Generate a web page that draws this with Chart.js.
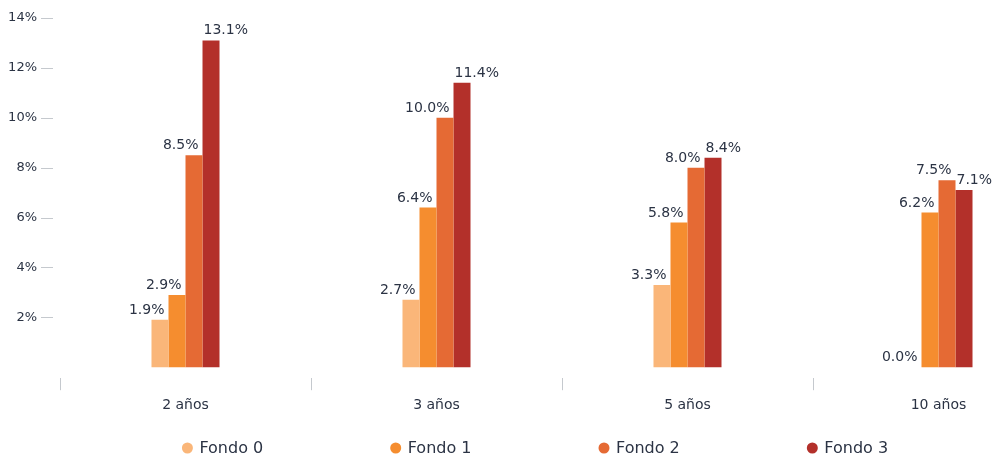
<!DOCTYPE html>
<html>
<head>
<meta charset="utf-8">
<script src="https://cdn.jsdelivr.net/npm/chart.js@4/dist/chart.umd.min.js"></script>
<style>
  html, body { margin: 0; padding: 0; background: #ffffff; overflow: hidden; }
  #wrap { width: 1070px; height: 456px; }
</style>
</head>
<body>
<div id="wrap"><canvas id="c" width="1070" height="456"></canvas></div>
<script>
const categories = ['2 años', '3 años', '5 años', '10 años'];
const seriesNames = ['Fondo 0', 'Fondo 1', 'Fondo 2', 'Fondo 3'];
const fondo0 = [1.9, 2.7, 3.3, 0.0];
const fondo1 = [2.9, 6.4, 5.8, 6.2];
const fondo2 = [8.5, 10.0, 8.0, 7.5];
const fondo3 = [13.1, 11.4, 8.4, 7.1];
const yTickValues = [2, 4, 6, 8, 10, 12, 14];

const colors = ['#FAB679', '#F58D2F', '#E56A34', '#B3302A'];
const textColor = '#2b3344';
const tickMarkColor = '#c5c9ce';
const FONT = '"DejaVu Sans", Verdana, sans-serif';

const seriesValues = [fondo0, fondo1, fondo2, fondo3];

const helperPlugin = {
  id: 'helper',
  afterDatasetsDraw(chart) {
    const ctx = chart.ctx;
    ctx.save();
    ctx.font = '14px ' + FONT;
    ctx.fillStyle = textColor;
    ctx.textBaseline = 'alphabetic';
    chart.data.datasets.forEach((ds, di) => {
      const meta = chart.getDatasetMeta(di);
      meta.data.forEach((bar, i) => {
        const v = ds.data[i];
        const txt = v.toFixed(1) + '%';
        const half = bar.width / 2;
        let x;
        if (di === seriesValues.length - 1) {
          ctx.textAlign = 'left';
          x = bar.x - half + 1;
        } else {
          ctx.textAlign = 'right';
          x = bar.x + half - 4;
        }
        ctx.fillText(txt, x, bar.y - 6);
      });
    });
    ctx.restore();
  },
  afterDraw(chart) {
    const ctx = chart.ctx;
    const area = chart.chartArea;
    const y = chart.scales.y;
    ctx.save();
    ctx.strokeStyle = tickMarkColor;
    ctx.lineWidth = 1;
    yTickValues.forEach(v => {
      const py = Math.round(y.getPixelForValue(v)) + 0.5;
      ctx.beginPath();
      ctx.moveTo(area.left - 19, py);
      ctx.lineTo(area.left - 7, py);
      ctx.stroke();
    });
    // legend
    ctx.font = '16px ' + FONT;
    ctx.textBaseline = 'middle';
    ctx.textAlign = 'left';
    const r = 5.5, gapText = 6.5, pitch = 208.3;
    const n = seriesNames.length;
    const lastW = 2 * r + gapText + ctx.measureText(seriesNames[n - 1]).width;
    const total = pitch * (n - 1) + lastW;
    let x0 = chart.width / 2 - total / 2;
    const ly = 448;
    seriesNames.forEach((name, i) => {
      const x = x0 + i * pitch;
      ctx.fillStyle = colors[i];
      ctx.beginPath();
      ctx.arc(x + r, ly, r, 0, Math.PI * 2);
      ctx.fill();
      ctx.fillStyle = textColor;
      ctx.fillText(name, x + 2 * r + gapText, ly + 1);
    });
    ctx.restore();
  }
};

new Chart(document.getElementById('c'), {
  type: 'bar',
  data: {
    labels: categories,
    datasets: seriesValues.map((vals, i) => ({
      label: seriesNames[i],
      data: vals,
      backgroundColor: colors[i],
      borderWidth: 0,
      barPercentage: 1,
      categoryPercentage: 0.271
    }))
  },
  options: {
    responsive: false,
    animation: false,
    layout: { padding: { top: 18, bottom: 35, left: 0, right: 6 } },
    plugins: {
      legend: { display: false },
      tooltip: { enabled: false }
    },
    scales: {
      x: {
        offset: true,
        border: { display: false },
        grid: {
          offset: true,
          drawOnChartArea: false,
          drawTicks: true,
          tickLength: 12,
          tickColor: tickMarkColor,
          lineWidth: 1
        },
        ticks: {
          color: textColor,
          font: { family: FONT, size: 14 },
          padding: 7,
          maxRotation: 0
        }
      },
      y: {
        min: -0.44,
        max: 14,
        border: { display: false },
        grid: { display: false, drawTicks: false },
        afterBuildTicks(scale) {
          scale.ticks = yTickValues.map(v => ({ value: v }));
        },
        afterFit(scale) {
          scale.width = 60;
          scale.paddingTop = 0;
          scale.paddingBottom = 0;
        },
        ticks: {
          color: textColor,
          font: { family: FONT, size: 13 },
          padding: 23,
          callback: v => v + '%'
        }
      }
    }
  },
  plugins: [helperPlugin]
});
</script>
</body>
</html>
